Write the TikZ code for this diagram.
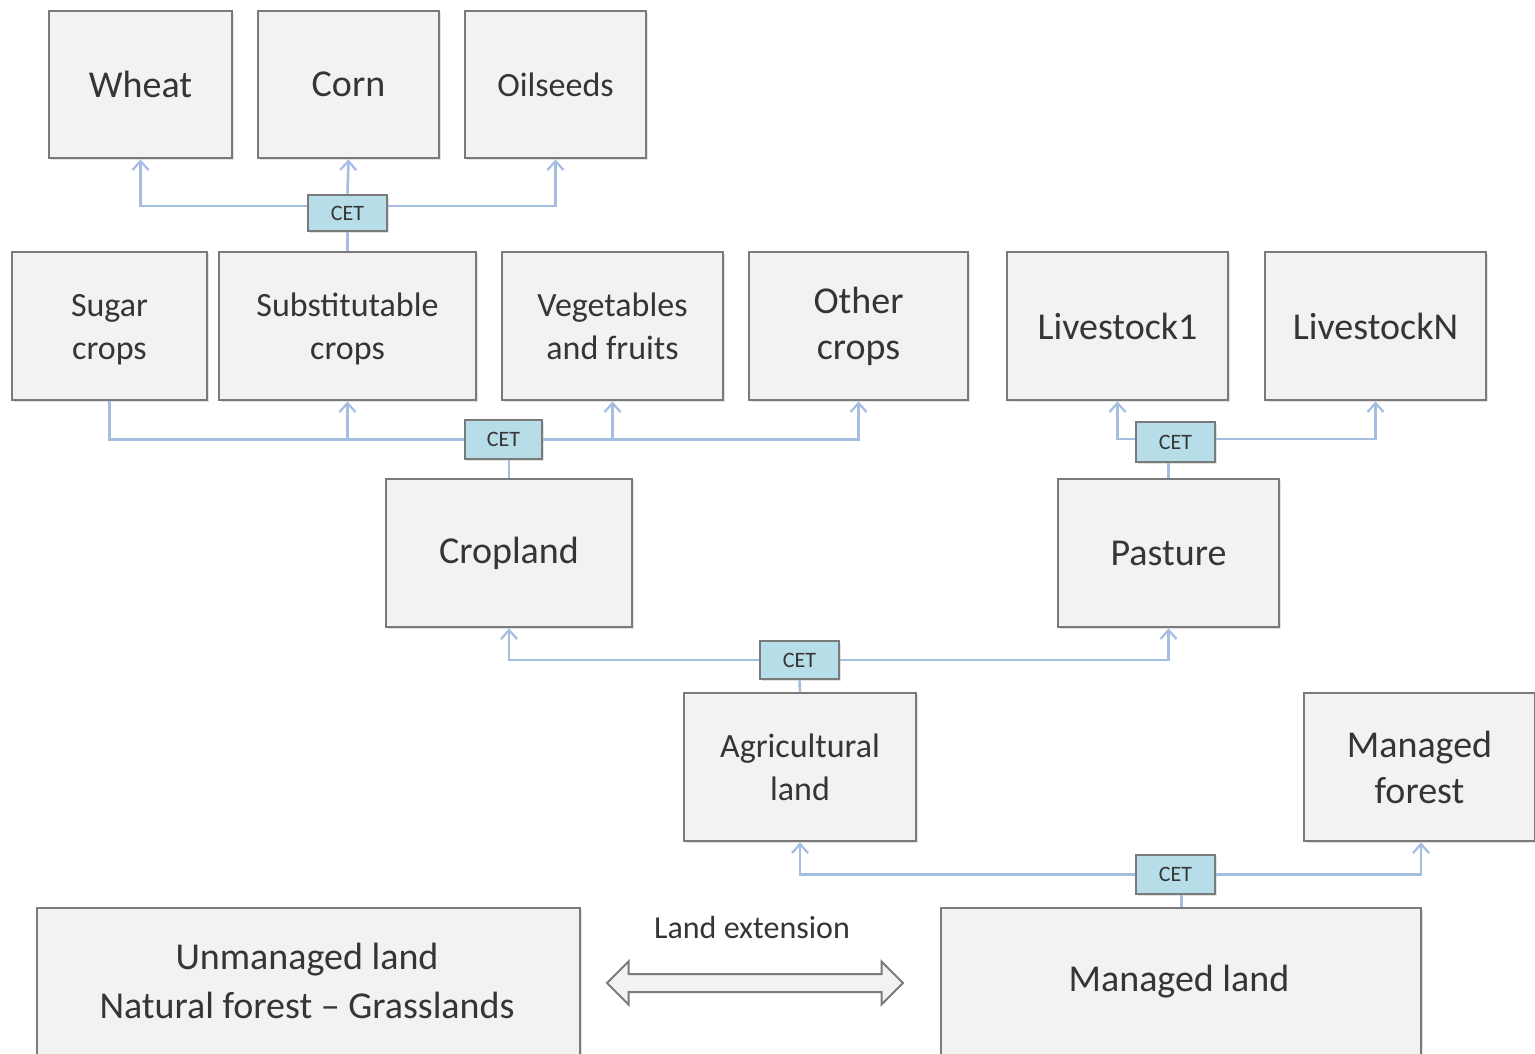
\documentclass[tikz,border=0pt]{standalone}
\usepackage{fontspec}
\setmainfont{Carlito}
\usetikzlibrary{arrows.meta,shapes.arrows,shadows}
\definecolor{boxfill}{HTML}{F2F2F2}
\definecolor{boxline}{HTML}{7A7A7A}
\definecolor{linkblue}{HTML}{A4BDE0}
\definecolor{cetfill}{HTML}{B7DEE8}
\definecolor{txt}{HTML}{353535}
\tikzset{
  boxshadow/.style={drop shadow={shadow xshift=1.5pt, shadow yshift=-2pt, fill=black!22}},
  landbox/.style={draw=boxline, fill=boxfill, line width=2.8pt, inner sep=0pt,
    align=center, text=txt, font=\fontsize{38}{46}\selectfont, boxshadow},
  smalltext/.style={font=\fontsize{34}{43}\selectfont},
  cetbox/.style={draw=boxline, fill=cetfill, line width=2.8pt, inner sep=0pt,
    text=txt, font=\fontsize{22}{24}\selectfont, minimum width=79pt, boxshadow},
  conn/.style={draw=linkblue, line width=2.6pt},
  toarrow/.style={conn, -{Straight Barb[length=9pt,width=16pt,line width=2.2pt]}},
}
\begin{document}
\begin{tikzpicture}[x=1pt,y=-1pt]
\useasboundingbox (0,0) rectangle (1535,1054);
\clip (0,0) rectangle (1535,1054);
\fill[white] (0,0) rectangle (1535,1054);

% crop level
\node[landbox, minimum width=183pt, minimum height=147pt] (wheat) at (140.5,84.5) {Wheat};
\node[landbox, minimum width=181pt, minimum height=147pt] (corn) at (348.5,84.5) {Corn};
\node[landbox, smalltext, minimum width=181pt, minimum height=147pt] (oil) at (555.5,84.5) {Oilseeds};
\node[cetbox, minimum height=36pt] (cet1) at (347.5,213) {CET};

% crop groups and livestock
\node[landbox, smalltext, minimum width=195pt, minimum height=148pt] (sugar) at (109.5,326) {\strut Sugar\\crops};
\node[landbox, smalltext, minimum width=257pt, minimum height=148pt] (subst) at (347.5,326) {\strut Substitutable\\crops};
\node[landbox, smalltext, minimum width=221pt, minimum height=148pt] (veg) at (612.5,326) {Vegetables\\and fruits};
\node[landbox, minimum width=219pt, minimum height=148pt] (other) at (858.5,326) {Other\\crops};
\node[landbox, minimum width=221pt, minimum height=148pt] (live1) at (1117.5,326) {Livestock1};
\node[landbox, minimum width=221pt, minimum height=148pt] (liveN) at (1375.5,326) {LivestockN};
\node[cetbox, minimum height=39pt, minimum width=77pt] (cet2) at (503.5,439.5) {CET};
\node[cetbox, minimum height=40pt] (cet3) at (1175.5,442) {CET};

% cropland and pasture
\node[landbox, minimum width=246pt, minimum height=148pt] (crop) at (509,553) {Cropland};
\node[landbox, minimum width=221pt, minimum height=148pt] (past) at (1168.5,553) {Pasture};
\node[cetbox, minimum height=38pt] (cet4) at (799.5,660) {CET};

% agricultural land and forest
\node[landbox, smalltext, minimum width=232pt, minimum height=148pt] (agri) at (800,767) {Agricultural\\land};
\node[landbox, minimum width=231pt, minimum height=148pt] (mforest) at (1419.5,767) {Managed\\forest};
\node[cetbox, minimum height=39pt] (cet5) at (1175.5,874.5) {CET};

% land pools
\node[landbox, minimum width=543pt, minimum height=164pt] (unman) at (308.5,990) {};
\node[text=txt, font=\fontsize{38}{49}\selectfont, align=center] (unmantxt) at (307,981) {Unmanaged land\\Natural forest -- Grasslands};
\node[landbox, minimum width=480pt, minimum height=164pt] (man) at (1181,990) {};
\node[text=txt, font=\fontsize{38}{46}\selectfont] (mantxt) at (1179,982) {Managed land};
\node[text=txt, font=\fontsize{32}{38}\selectfont] (extlbl) at (752,928) {Land extension};
\node[double arrow, draw=boxline, fill=boxfill, line width=2pt, inner sep=8pt,
      minimum height=296pt, minimum width=41pt, double arrow head extend=12.5pt]
      (ext) at (755,983) {};

% CET links
\draw[toarrow] ([yshift=7pt]cet1.west) -| (wheat.south);
\draw[toarrow] ([yshift=7pt]cet1.east) -| (oil.south);
\draw[toarrow] (cet1.north) -- (corn.south);
\draw[conn] (cet1.south) -- (cet1.south |- subst.north);

\draw[conn] (cet2.west) -| (sugar.south);
\draw[toarrow] (cet2.west -| subst.south) -- (subst.south);
\draw[toarrow] (cet2.east -| veg.south) -- (veg.south);
\draw[toarrow] (cet2.east) -| (other.south);
\draw[conn] (cet2.south -| crop.north) -- (crop.north);

\draw[toarrow] ([yshift=3pt]cet3.west) -| (live1.south);
\draw[toarrow] ([yshift=3pt]cet3.east) -| (liveN.south);
\draw[conn] (cet3.south -| past.north) -- (past.north);

\draw[toarrow] (cet4.west) -| (crop.south);
\draw[toarrow] (cet4.east) -| (past.south);
\draw[conn] (cet4.south) -- (agri.north);

\draw[toarrow] (cet5.west) -| (agri.south);
\draw[toarrow] (cet5.east) -| ([xshift=1.5pt]mforest.south);
\draw[conn] ([xshift=6pt]cet5.south) -- ([xshift=6pt]cet5.south |- man.north);
\end{tikzpicture}
\end{document}
